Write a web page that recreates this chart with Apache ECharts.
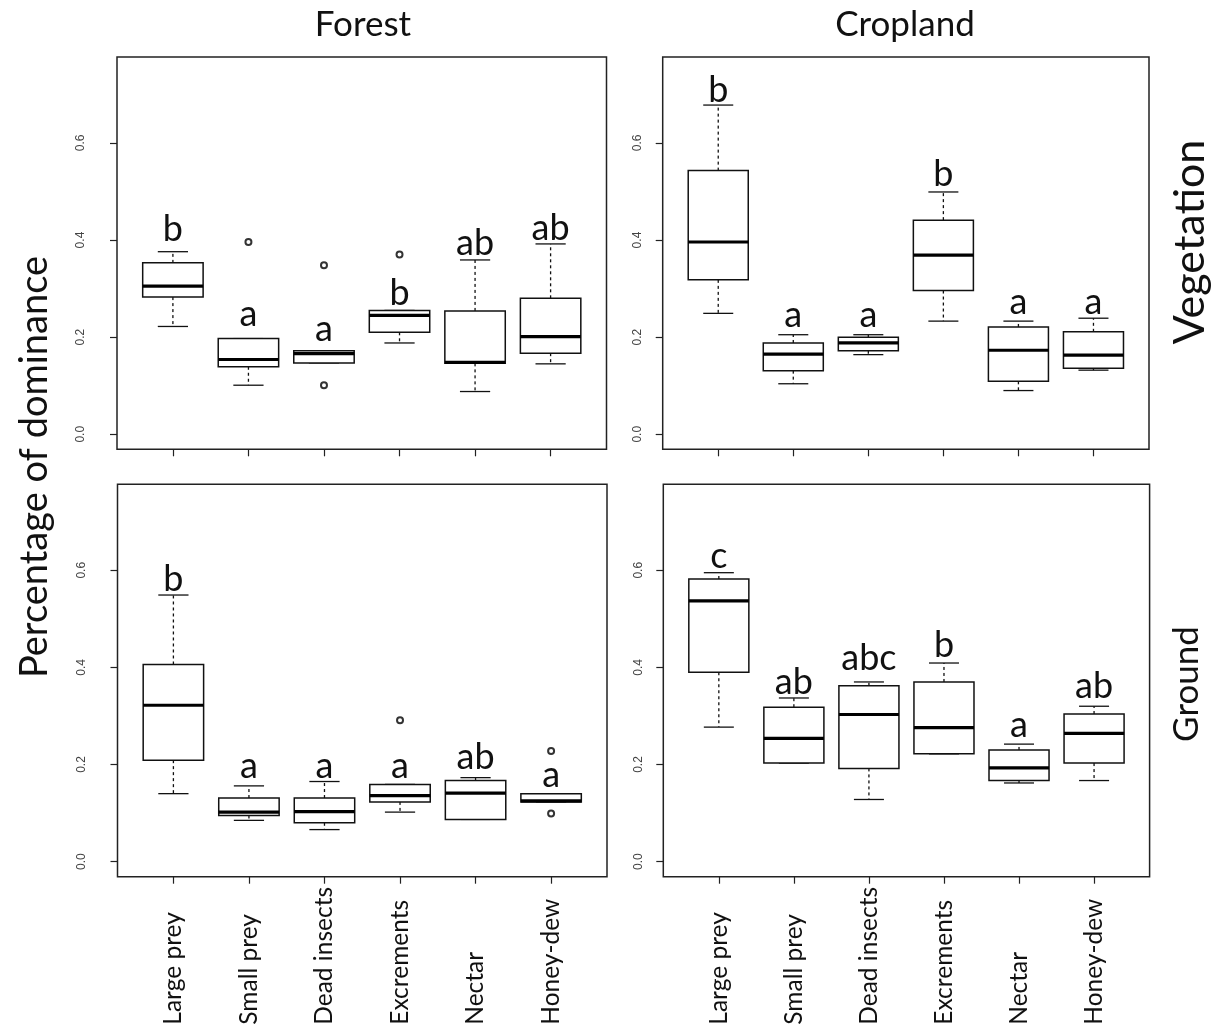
<!DOCTYPE html>
<html>
<head>
<meta charset="utf-8">
<script src="https://cdn.jsdelivr.net/npm/echarts@6/dist/echarts.min.js"></script>
<style>
html,body{margin:0;padding:0;background:#fff;}
#chart{width:1216px;height:1030px;}
</style>
</head>
<body>
<div id="chart"></div>
<script>
// ---------- DATA ----------
const categories = ['Large prey', 'Small prey', 'Dead insects', 'Excrements', 'Nectar', 'Honey-dew'];
const yTicks = [0, 0.2, 0.4, 0.6];
const yTickLabels = ['0.0', '0.2', '0.4', '0.6'];
const columnTitles = ['Forest', 'Cropland'];
const rowTitles = ['Vegetation', 'Ground'];
const yTitle = 'Percentage of dominance';

// box stats per category: [lowerWhisker, Q1, median, Q3, upperWhisker]
const forestVegStats = [
  [0.222, 0.2825, 0.305, 0.353, 0.376],
  [0.101, 0.139, 0.154, 0.197, 0.197],
  [0.147, 0.147, 0.166, 0.172, 0.172],
  [0.188, 0.210, 0.245, 0.255, 0.255],
  [0.088, 0.146, 0.148, 0.254, 0.359],
  [0.145, 0.167, 0.201, 0.280, 0.392]
];
const forestVegOutliers = [[2, 0.396], [3, 0.348], [3, 0.101], [4, 0.370]];
const forestVegLetters = ['b', 'a', 'a', 'b', 'ab', 'ab'];
const forestVegLetterY = [0.402, 0.227, 0.196, 0.270, 0.372, 0.403];

const cropVegStats = [
  [0.249, 0.318, 0.396, 0.543, 0.678],
  [0.104, 0.131, 0.165, 0.188, 0.205],
  [0.164, 0.172, 0.188, 0.200, 0.205],
  [0.233, 0.296, 0.369, 0.441, 0.499],
  [0.090, 0.109, 0.173, 0.221, 0.233],
  [0.132, 0.136, 0.163, 0.211, 0.239]
];
const cropVegOutliers = [];
const cropVegLetters = ['b', 'a', 'a', 'b', 'a', 'a'];
const cropVegLetterY = [0.688, 0.225, 0.225, 0.515, 0.250, 0.250];

const forestGroundStats = [
  [0.140, 0.209, 0.322, 0.406, 0.549],
  [0.085, 0.095, 0.102, 0.131, 0.156],
  [0.066, 0.080, 0.103, 0.131, 0.165],
  [0.102, 0.123, 0.136, 0.159, 0.159],
  [0.087, 0.087, 0.141, 0.167, 0.173],
  [0.123, 0.123, 0.125, 0.140, 0.140]
];
const forestGroundOutliers = [[4, 0.291], [6, 0.228], [6, 0.099]];
const forestGroundLetters = ['b', 'a', 'a', 'a', 'ab', 'a'];
const forestGroundLetterY = [0.560, 0.175, 0.175, 0.175, 0.195, 0.156];

const cropGroundStats = [
  [0.277, 0.390, 0.537, 0.582, 0.595],
  [0.203, 0.203, 0.254, 0.318, 0.337],
  [0.128, 0.192, 0.303, 0.362, 0.370],
  [0.222, 0.222, 0.276, 0.370, 0.409],
  [0.162, 0.167, 0.193, 0.230, 0.242],
  [0.167, 0.203, 0.264, 0.304, 0.320]
];
const cropGroundOutliers = [];
const cropGroundLetters = ['c', 'ab', 'abc', 'b', 'a', 'ab'];
const cropGroundLetterY = [0.608, 0.349, 0.397, 0.424, 0.259, 0.340];

// ---------- LAYOUT ----------
const panels = [
  {stats: forestVegStats, out: forestVegOutliers, letters: forestVegLetters, ly: forestVegLetterY,
   grid: {left: 117, top: 57, width: 489.5, height: 392.3}, yLabelMargin: 30, showX: false},
  {stats: cropVegStats, out: cropVegOutliers, letters: cropVegLetters, ly: cropVegLetterY,
   grid: {left: 662.7, top: 57, width: 486.3, height: 392.3}, yLabelMargin: 19, showX: false},
  {stats: forestGroundStats, out: forestGroundOutliers, letters: forestGroundLetters, ly: forestGroundLetterY,
   grid: {left: 117.5, top: 484.3, width: 489.5, height: 392.4}, yLabelMargin: 30, showX: true},
  {stats: cropGroundStats, out: cropGroundOutliers, letters: cropGroundLetters, ly: cropGroundLetterY,
   grid: {left: 663.3, top: 484.3, width: 486.3, height: 392.4}, yLabelMargin: 19, showX: true}
];

const X_MIN = 0.26, X_MAX = 6.74, Y_MIN = -0.031, Y_MAX = 0.777;
const LINE = '#111';
const catPos = categories.map((c, i) => i + 1);

const grids = [], xAxes = [], yAxes = [], series = [];

panels.forEach((p, k) => {
  grids.push(Object.assign({show: true, borderColor: '#222', borderWidth: 1.5, backgroundColor: 'transparent'}, p.grid));
  xAxes.push({
    type: 'value', gridIndex: k, min: X_MIN, max: X_MAX, position: 'bottom',
    axisLine: {show: false, onZero: false}, splitLine: {show: false},
    axisTick: {show: true, inside: false, length: 7, customValues: catPos, lineStyle: {color: '#222', width: 1.2}},
    axisLabel: {
      show: p.showX, customValues: catPos, rotate: 90, align: 'left', verticalAlign: 'middle',
      margin: 148, fontFamily: 'Lato', fontSize: 24.5, color: '#111',
      formatter: v => categories[Math.round(v) - 1] || ''
    }
  });
  yAxes.push({
    type: 'value', gridIndex: k, min: Y_MIN, max: Y_MAX, position: 'left',
    axisLine: {show: false, onZero: false}, splitLine: {show: false},
    axisTick: {show: true, inside: false, length: 7, customValues: yTicks, lineStyle: {color: '#222', width: 1.2}},
    axisLabel: {
      show: true, customValues: yTicks, rotate: 90, margin: p.yLabelMargin,
      fontFamily: 'Liberation Sans', fontSize: 12, color: '#444',
      formatter: v => yTickLabels[yTicks.findIndex(t => Math.abs(t - v) < 1e-6)] || ''
    }
  });

  // boxplots
  series.push({
    type: 'custom', xAxisIndex: k, yAxisIndex: k,
    data: p.stats.map((s, i) => [catPos[i]].concat(s)),
    encode: {x: 0, y: [1, 2, 3, 4, 5]},
    renderItem: function (params, api) {
      const x = api.value(0);
      const lo = api.value(1), q1 = api.value(2), md = api.value(3), q3 = api.value(4), hi = api.value(5);
      const P = (xx, yy) => api.coord([xx, yy]);
      const children = [];
      const dash = {stroke: LINE, lineWidth: 1.3, lineDash: [3, 3]};
      const solid = {stroke: LINE, lineWidth: 1.3};
      const c = P(x, 0)[0];
      if (hi > q3) children.push({type: 'line', shape: {x1: c, y1: P(x, q3)[1], x2: c, y2: P(x, hi)[1]}, style: dash});
      if (lo < q1) children.push({type: 'line', shape: {x1: c, y1: P(x, q1)[1], x2: c, y2: P(x, lo)[1]}, style: dash});
      const sl = P(x - 0.2, 0)[0], sr = P(x + 0.2, 0)[0];
      children.push({type: 'line', shape: {x1: sl, y1: P(x, hi)[1], x2: sr, y2: P(x, hi)[1]}, style: solid});
      children.push({type: 'line', shape: {x1: sl, y1: P(x, lo)[1], x2: sr, y2: P(x, lo)[1]}, style: solid});
      const bl = P(x - 0.4, 0)[0], br = P(x + 0.4, 0)[0];
      const yt = P(x, q3)[1], yb = P(x, q1)[1];
      children.push({type: 'rect', shape: {x: bl, y: yt, width: br - bl, height: yb - yt},
        style: {fill: '#fff', stroke: LINE, lineWidth: 1.5}});
      const ym = P(x, md)[1];
      children.push({type: 'line', shape: {x1: bl, y1: ym, x2: br, y2: ym}, style: {stroke: '#000', lineWidth: 3.2}});
      return {type: 'group', children: children};
    },
    silent: true, z: 2
  });

  // outliers
  series.push({
    type: 'scatter', xAxisIndex: k, yAxisIndex: k, data: p.out,
    symbol: 'emptyCircle', symbolSize: 6,
    itemStyle: {color: '#000', borderWidth: 1}, silent: true, z: 3
  });

  // significance letters
  series.push({
    type: 'custom', xAxisIndex: k, yAxisIndex: k,
    data: p.ly.map((v, i) => [catPos[i], v]),
    renderItem: function (params, api) {
      const pt = api.coord([api.value(0), api.value(1)]);
      return {type: 'text', x: pt[0], y: pt[1] + 8,
        style: {text: p.letters[params.dataIndex], fill: '#111', font: '36px Lato',
          textAlign: 'center', textVerticalAlign: 'bottom'}};
    },
    silent: true, z: 4
  });
});

const option = {
  backgroundColor: '#fff',
  animation: false,
  grid: grids, xAxis: xAxes, yAxis: yAxes, series: series,
  graphic: [
    {type: 'text', x: 363, y: 25, style: {text: columnTitles[0], font: '35px Lato', fill: '#111', textAlign: 'center', textVerticalAlign: 'middle'}},
    {type: 'text', x: 905, y: 25, style: {text: columnTitles[1], font: '35px Lato', fill: '#111', textAlign: 'center', textVerticalAlign: 'middle'}},
    {type: 'text', x: 1190, y: 242, rotation: Math.PI / 2, style: {text: rowTitles[0], font: '43px Lato', fill: '#111', textAlign: 'center', textVerticalAlign: 'middle'}},
    {type: 'text', x: 1187, y: 684, rotation: Math.PI / 2, style: {text: rowTitles[1], font: '35px Lato', fill: '#111', textAlign: 'center', textVerticalAlign: 'middle'}},
    {type: 'text', x: 35, y: 467, rotation: Math.PI / 2, style: {text: yTitle, font: '38px Lato', fill: '#111', textAlign: 'center', textVerticalAlign: 'middle'}}
  ]
};

const chart = echarts.init(document.getElementById('chart'), null, {renderer: 'canvas'});
chart.setOption(option);
</script>
</body>
</html>
